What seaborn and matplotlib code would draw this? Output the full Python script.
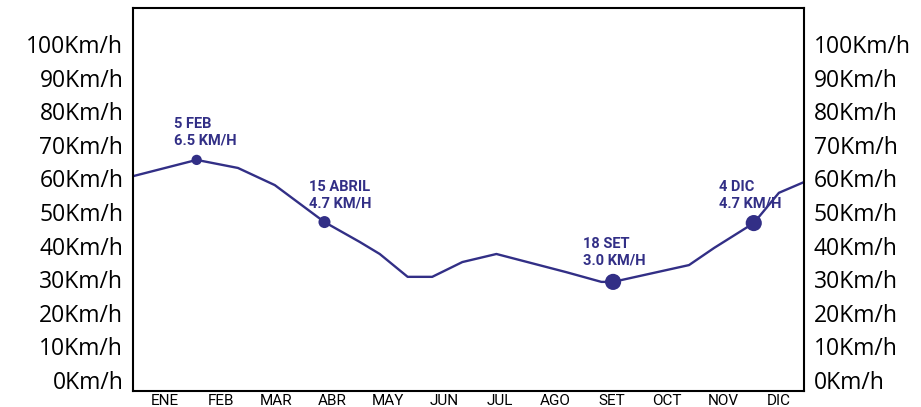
import matplotlib
matplotlib.use('Agg')
import matplotlib.pyplot as plt
import seaborn as sns
import pandas as pd

# Monthly wind speed curve (x in month units, ENE = 0)
months = ['ENE', 'FEB', 'MAR', 'ABR', 'MAY', 'JUN', 'JUL', 'AGO', 'SET', 'OCT', 'NOV', 'DIC']
curve_x = [-0.63, 0.57, 1.31, 1.97, 2.86, 3.49, 3.85, 4.35, 4.79, 5.33, 5.94,
           7.19, 7.82, 8.03, 9.39, 9.84, 10.55, 11.0, 11.45]
curve_y = [60.4, 65.5, 63.1, 58.0, 47.0, 41.1, 37.5, 30.7, 30.7, 35.1, 37.5,
           32.1, 29.2, 29.2, 34.2, 39.3, 46.7, 55.7, 58.9]

# Highlighted points
mark_x = [0.57, 2.86, 8.03, 10.55]
mark_y = [65.5, 47.0, 29.2, 46.7]
mark_size = [55, 75, 135, 135]
mark_labels = ['5 FEB\n6.5 KM/H', '15 ABRIL\n4.7 KM/H', '18 SET\n3.0 KM/H', '4 DIC\n4.7 KM/H']
label_offsets = [(-16, 31), (-11, 30), (-22, 32), (-25, 31)]

yticks = [0, 10, 20, 30, 40, 50, 60, 70, 80, 90, 100]

navy = '#322f86'

sns.set_style('white')
plt.rcParams['font.family'] = ['Open Sans', 'DejaVu Sans']

fig = plt.figure(figsize=(9.21, 4.07), dpi=100)
ax = fig.add_axes([133 / 921, 1 - 391 / 407, 671 / 921, 383 / 407])

curve = pd.DataFrame({'x': curve_x, 'y': curve_y})
marks = pd.DataFrame({'x': mark_x, 'y': mark_y, 's': mark_size})

sns.lineplot(data=curve, x='x', y='y', ax=ax, color=navy, linewidth=1.7, sort=False)
ax.scatter(marks['x'], marks['y'], s=marks['s'], color=navy, zorder=3, linewidths=0)

for x, y, txt, off in zip(mark_x, mark_y, mark_labels, label_offsets):
    ax.annotate(txt, (x, y), xytext=off, textcoords='offset points',
                ha='left', va='top', fontsize=10.5, fontweight='bold', color=navy,
                family=['Roboto', 'DejaVu Sans'], linespacing=1.2)

ax.set_xlim(-0.57, 11.45)
ax.set_ylim(-3.27, 110.7)
ax.set_xticks(range(len(months)))
ax.set_xticklabels(months, fontsize=11, family=['Roboto', 'DejaVu Sans'], color='black')
ax.set_yticks(yticks)
ax.set_yticklabels([f'{v}Km/h' for v in yticks], fontsize=16.5, color='black')
ax.tick_params(axis='y', length=0, pad=7, labelright=True, right=False, labelcolor='black')
ax.tick_params(axis='x', length=0, pad=2, labelcolor='black')
ax.set_xlabel('')
ax.set_ylabel('')
for side in ax.spines.values():
    side.set_color('black')
    side.set_linewidth(1.5)

fig.savefig('out.png', dpi=100)
